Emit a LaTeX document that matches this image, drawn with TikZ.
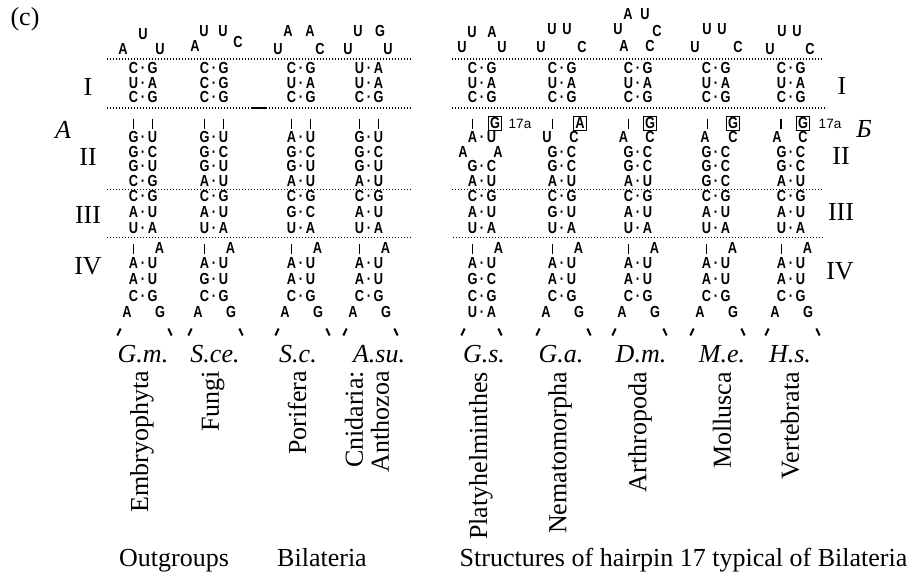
\documentclass[tikz,border=0pt]{standalone}
\usepackage{fontspec}
\setmainfont{Liberation Serif}
\newfontfamily\rnaf{Liberation Sans}[FakeStretch=0.8]
\newfontfamily\labf{Liberation Sans}
\tikzset{
  rn/.style={font=\rnaf\bfseries\fontsize{16}{16}\selectfont, inner sep=0pt, text height=9.5pt, text depth=0pt},
  lb/.style={font=\fontsize{26}{26}\selectfont, inner sep=0pt},
  spc/.style={font=\itshape\fontsize{26}{26}\selectfont, inner sep=0pt, anchor=base},
  vlab/.style={font=\fontsize{26}{26}\selectfont, inner sep=0pt, rotate=90, anchor=east, align=right},
  dotl/.style={line width=1.5pt, dash pattern=on 1.4pt off 1.6pt},
  barl/.style={line width=1.6pt},
  slashl/.style={line width=2pt},
  bxn/.style={rn, draw, line width=0.9pt, inner sep=1.5pt, minimum width=13pt, minimum height=14pt},
  sa/.style={font=\labf\fontsize{13.5}{13.5}\selectfont, inner sep=0pt},
}
% pairs: #1 name prefix, #2 centre x, #3 list y/L/R
\newcommand\pairs[3]{\foreach \yy/\ll/\rr [count=\k] in {#3}{%
  \node[rn] (#1p\k l) at (#2-9.5,\yy) {\ll};
  \node[rn] (#1p\k d) at (#2,\yy) {·};
  \node[rn] (#1p\k r) at (#2+9.5,\yy) {\rr};}}
\newcommand\putl[4]{\node[rn] (#1) at (#2,#3) {#4};}
\newcommand\vbar[2]{\draw[barl] (#1,#2-5) -- (#1,#2+5);}
\newcommand\lslash[2]{\draw[slashl] (#1-1.7,#2+3.5) -- (#1+1.7,#2-3.5);}
\newcommand\rslash[2]{\draw[slashl] (#1-1.7,#2-3.5) -- (#1+1.7,#2+3.5);}
% common lower parts: #1 name, #2 cx
\newcommand\lowpart[2]{%
  \vbar{#2-9.5}{249}
  \putl{#1ia}{#2+16.5}{249}{A}
  \putl{#1ba}{#2-16}{313}{A}
  \putl{#1bg}{#2+17}{313}{G}
  \lslash{#2-24}{332}
  \rslash{#2+27}{332}}
\begin{document}
\begin{tikzpicture}[x=1pt,y=-1pt]
\useasboundingbox (0,0) rectangle (916,576);

% dotted separators
\foreach \yy in {59,108,189.5,237.5}{
  \draw[dotl] (107,\yy) -- (412,\yy);
}
\draw[line width=1.5pt] (252,108) -- (267,108);
\draw[dotl] (452,59) -- (822,59);
\draw[dotl] (452,108) -- (827,108);
\draw[dotl] (452,189.5) -- (822,189.5);
\draw[dotl] (453,237.5) -- (823,237.5);

% ---------- column 1  G.m.
\putl{c1t1}{143}{35}{U}
\putl{c1t2}{123}{50}{A}
\putl{c1t3}{160}{50}{U}
\pairs{c1}{143}{69/C/G,83.5/U/A,98/C/G,138/G/U,152.5/G/C,167/G/U,181.5/C/G,197/C/G,213/A/U,229/U/A,264/A/U,280/A/U,297/C/G}
\vbar{133.5}{123.5}\vbar{152.5}{123.5}
\lowpart{c1}{143}

% ---------- column 2  S.ce.
\putl{c2t1}{204}{32}{U}
\putl{c2t2}{223}{32}{U}
\putl{c2t3}{195}{47}{A}
\putl{c2t4}{238}{43}{C}
\pairs{c2}{214}{69/C/G,83.5/C/G,98/C/G,138/G/U,152.5/G/C,167/G/U,181.5/A/U,197/C/G,213/A/U,229/U/A,264/A/U,280/G/U,297/C/G}
\vbar{204.5}{123.5}\vbar{223.5}{123.5}
\lowpart{c2}{214}

% ---------- column 3  S.c.
\putl{c3t1}{288}{32}{A}
\putl{c3t2}{310}{32}{A}
\putl{c3t3}{278}{50}{U}
\putl{c3t4}{320}{50}{C}
\pairs{c3}{301}{69/C/G,83.5/U/A,98/C/G,138/A/U,152.5/G/C,167/G/U,181.5/A/U,197/C/G,213/G/C,229/U/A,264/A/U,280/A/U,297/C/G}
\vbar{291.5}{123.5}\vbar{310.5}{123.5}
\lowpart{c3}{301}

% ---------- column 4  A.su.
\putl{c4t1}{358}{32}{U}
\putl{c4t2}{380}{32}{G}
\putl{c4t3}{348}{50}{U}
\putl{c4t4}{388}{50}{U}
\pairs{c4}{369}{69/U/A,83.5/U/A,98/C/G,138/G/U,152.5/G/C,167/G/U,181.5/A/U,197/C/G,213/A/U,229/U/A,264/A/U,280/A/U,297/C/G}
\vbar{359.5}{123.5}\vbar{378.5}{123.5}
\lowpart{c4}{369}

% ---------- column 5  G.s.
\putl{c5t1}{472}{33}{U}
\putl{c5t2}{492}{33}{A}
\putl{c5t3}{462}{48}{U}
\putl{c5t4}{502}{48}{U}
\pairs{c5}{482}{69/C/G,83.5/U/A,98/C/G,138/A/U,167/G/C,181.5/A/U,197/C/G,213/A/U,229/U/A,264/A/U,280/G/C,297/C/G,313/U/A}
\vbar{472.5}{123.5}
\node[bxn] (c5box) at (495,123.5) {G};
\node[sa] (c5lab) at (520,123.5) {17a};
\putl{c5i1}{463}{152.5}{A}
\putl{c5i2}{498}{152.5}{A}
\vbar{472.5}{249}
\putl{c5ia}{498.5}{249}{A}
\lslash{463}{332}
\rslash{500}{332}

% ---------- column 6  G.a.
\putl{c6t1}{552}{30}{U}
\putl{c6t2}{567}{30}{U}
\putl{c6t3}{541}{48}{U}
\putl{c6t4}{582}{48}{C}
\pairs{c6}{562}{69/C/G,83.5/U/A,98/C/G,152.5/G/C,167/G/C,181.5/A/U,197/C/G,213/G/U,229/U/A,264/A/U,280/A/U,297/C/G}
\vbar{552.5}{123.5}
\node[bxn] (c6box) at (580,123.5) {A};
\putl{c6i1}{547}{138}{U}
\putl{c6i2}{574}{138}{C}
\lowpart{c6}{562}

% ---------- column 7  D.m.
\putl{c7t1}{628}{15}{A}
\putl{c7t2}{645}{15}{U}
\putl{c7t3}{618}{30}{U}
\putl{c7t4}{657}{32}{C}
\putl{c7t5}{624}{47}{A}
\putl{c7t6}{650}{47}{C}
\pairs{c7}{638}{69/C/G,83.5/U/A,98/C/G,152.5/G/C,167/G/C,181.5/A/U,197/C/G,213/A/U,229/U/A,264/A/U,280/A/U,297/C/G}
\vbar{628.5}{123.5}
\node[bxn] (c7box) at (650,123.5) {G};
\putl{c7i1}{623.5}{138}{A}
\putl{c7i2}{650}{138}{C}
\lowpart{c7}{638}

% ---------- column 8  M.e.
\putl{c8t1}{707}{30}{U}
\putl{c8t2}{722}{30}{U}
\putl{c8t3}{695}{48}{U}
\putl{c8t4}{738}{48}{C}
\pairs{c8}{716}{69/C/G,83.5/U/A,98/C/G,152.5/G/C,167/G/C,181.5/G/C,197/C/G,213/A/U,229/U/A,264/A/U,280/A/U,297/C/G}
\vbar{707.5}{123.5}
\node[bxn] (c8box) at (733,123.5) {G};
\putl{c8i1}{705}{138}{A}
\putl{c8i2}{733}{138}{C}
\lowpart{c8}{716}

% ---------- column 9  H.s.
\putl{c9t1}{782}{32}{U}
\putl{c9t2}{797}{32}{U}
\putl{c9t3}{770}{50}{U}
\putl{c9t4}{810}{50}{C}
\pairs{c9}{791}{69/C/G,83.5/U/A,98/C/G,152.5/G/C,167/G/C,181.5/A/U,197/C/G,213/A/U,229/U/A,264/A/U,280/A/U,297/C/G}
\vbar{781}{123.5}
\node[bxn] (c9box) at (803,123.5) {G};
\node[sa] (c9lab) at (830,123.5) {17a};
\putl{c9i1}{777}{138}{A}
\putl{c9i2}{803}{138}{C}
\lowpart{c9}{791}

% ---------- side labels
\node[lb] (fig) at (25,19) {(c)};
\node[lb] (lI) at (88,87) {I};
\node[lb] (lII) at (88,157) {II};
\node[lb] (lIII) at (88,215) {III};
\node[lb] (lIV) at (88,266) {IV};
\node[lb, font=\itshape\fontsize{26}{26}\selectfont] (lA) at (63,130) {A};
\node[lb] (rI) at (842,86) {I};
\node[lb] (rII) at (841,156) {II};
\node[lb] (rIII) at (841,212) {III};
\node[lb] (rIV) at (840,271) {IV};
\node[lb, font=\itshape\fontsize{26}{26}\selectfont] (rB) at (864,129) {Б};

% ---------- species
\node[spc] (s1) at (143,362) {G.m.};
\node[spc] (s2) at (215,362) {S.ce.};
\node[spc] (s3) at (298,362) {S.c.};
\node[spc] (s4) at (379,362) {A.su.};
\node[spc] (s5) at (484,362) {G.s.};
\node[spc] (s6) at (561,362) {G.a.};
\node[spc] (s7) at (641,362) {D.m.};
\node[spc] (s8) at (722,362) {M.e.};
\node[spc] (s9) at (790,362) {H.s.};

% ---------- taxa (vertical)
\node[vlab] (v1) at (142,371) {Embryophyta};
\node[vlab] (v2) at (213,371) {Fungi};
\node[vlab] (v3) at (297,371) {Porifera};
\node[vlab] (v4) at (367,371) {Cnidaria:\\Anthozoa};
\node[vlab] (v5) at (481,372) {Platyhelminthes};
\node[vlab] (v6) at (560,372) {Nematomorpha};
\node[vlab] (v7) at (640,372) {Arthropoda};
\node[vlab] (v8) at (722,372) {Mollusca};
\node[vlab] (v9) at (790,372) {Vertebrata};

% ---------- group captions
\node[lb, anchor=base] (g1) at (174,566) {Outgroups};
\node[lb, anchor=base] (g2) at (322,566) {Bilateria};
\node[lb, anchor=base] (g3) at (683.5,566) {Structures of hairpin 17 typical of Bilateria};
\end{tikzpicture}
\end{document}
